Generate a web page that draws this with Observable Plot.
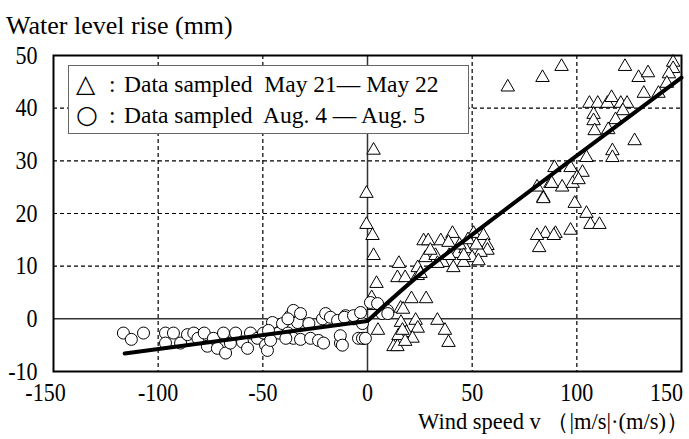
<!DOCTYPE html>
<html><head><meta charset="utf-8">
<script src="https://cdn.jsdelivr.net/npm/d3@7"></script>
<script src="https://cdn.jsdelivr.net/npm/@observablehq/plot@0.6"></script>
<style>
body{margin:0;background:#fff;}
#wrap{position:relative;width:689px;height:439px;font-family:"Liberation Serif","Times New Roman",serif;color:#000;overflow:hidden;}
#chart{position:absolute;left:0;top:0;}
.lbl{position:absolute;line-height:1;white-space:nowrap;}
#title{left:6px;top:13px;font-size:26px;}
#xlabel{right:0px;top:411px;font-size:22.5px;}
#legend{position:absolute;left:68px;top:65px;width:399px;height:67px;border:1px solid #666;background:#fff;}
#legend .lbl{font-size:23.5px;}
</style></head><body>
<div id="wrap">
  <div id="chart"></div>
  <div id="title" class="lbl">Water level rise (mm)</div>
  <div id="legend"></div>
  <div id="xlabel" class="lbl">Wind speed v （|m/s|·(m/s)）</div>
</div>
<script>
// Tick values
const xTicks = [-150, -100, -50, 0, 50, 100, 150];
const yTicks = [-10, 0, 10, 20, 30, 40, 50];
const gridXTicks = [-100, -50, 50, 100];
const gridYTicks = [10, 20, 30, 40];

// Legend labels
const legendSymbols = ["△", "○"];
const legendTexts = ["Data sampled  May 21— May 22", "Data sampled  Aug. 4 — Aug. 5"];

// Series 1: Data sampled May 21 - May 22 (triangles)
const mayV = [2.9,-0.5,-0.5,2.4,2.9,4.3,2,3,5,
  15,14.3,18,24,21,28,15.8,17,16,23,24,33.4,37,38.7,18.6,14.8,21.5,12.4,14.3,18,16.7,
  24,27.7,26.8,29,35,32.5,40.6,38.7,36,41,43,46.8,50.7,55.4,57.3,57.3,54,50,45.9,33.4,25.3,30,44,48,52,39,46,53,
  92.7,83.6,123,129.5,134,146,146,144,143,139,132,106,110,114.6,116.6,121,124,122,108,108,118.5,108.5,115,127.6,117,117,104.6,97,89.3,102.7,100,87.4,93,98,100.8,84,99,104.6,106.5,110.8,89.8,97,85,
  81,82,89,81,84,88,67];
const mayH = [32,23.8,17.9,15.8,12,6.7,4,2.5,-2.2,
  10.5,7.8,7.8,8.2,3.8,3.8,2,1.8,-0.7,-0.3,-1.8,-0.3,-2.2,-4.5,-2.6,-3.2,-3.7,-5.3,-5.3,-4.3,-2.2,
  9.7,11.6,14.8,14.8,14.8,12,16.2,14.5,10.7,9.7,12.4,13.3,16.2,15.8,13.9,13,12.6,11.6,10.7,10.5,8.6,13,14,15,14,12,12,11,
  47.9,45.8,47.9,45.8,46.7,48.7,47.5,46.5,44.7,42.8,42.8,40.9,40.9,40.9,42,40.9,40.9,39.5,38.8,37.6,37.8,35.7,35.9,33.8,31.9,30.6,30.6,28.7,28.7,27.8,26.8,25.7,25,25.7,26.4,23,21.9,20,17.9,17.9,16.2,16.8,16.2,
  15.8,13.5,15.8,25,22.8,25.7,44];

// Series 2: Data sampled Aug. 4 - Aug. 5 (circles)
const augV = [-116.6,-112.8,-107,-96.5,-96.5,-92.7,-89.3,-86,-83,-81,-78,-76.5,-73.6,-71.7,-68.8,-67.8,-65.5,-63,-59.7,-57.3,-55.9,-52.6,-49.7,-48.7,-47.8,-45.4,-42.5,-40.6,-38,-36.8,-35.4,-33.4,-32,-35.4,-32,-28,-27.2,-23.4,-21.5,-20,-21,-17.7,-14.3,-12.9,-10.5,-6.7,-4.3,-1.9,-2.4,-47.3,-46.3,-39,-38,
  -11,-6.7,-3.3,1.4,4.8,9.5,7,9.7,-13,-12,-2.4,-1];
const augH = [-2.7,-3.9,-2.7,-2.7,-4.6,-2.7,-4.6,-3,-2.7,-3.7,-2.7,-5.2,-3.7,-5.6,-2.7,-6.5,-4.6,-2.7,-4.4,-5.6,-2.7,-3.7,-2.7,-5,-6,-0.7,-2.7,-0.9,-2.7,0.6,1.6,-0.7,1,-3.7,-3.9,-0.9,-3.7,-4.1,0,1,-4.6,0.3,-0.3,-4.6,0.6,0,-3.7,-3.7,-0.9,-2.2,-4.1,-3.7,0,
  0.3,0.6,1.2,3.1,2.9,1.6,1,1,-3.2,-5,-3.7,-3.7];

// Fitted curve (two branches)
const fitLeftV = [-116, 0];
const fitLeftH = [-6.6, -0.4];
const fitRightV = [0, 25, 50, 100, 150];
const fitRightH = [-0.4, 8.4, 16, 31, 45.8];

const may = mayV.map((v, i) => ({v, h: mayH[i]}));
const aug = augV.map((v, i) => ({v, h: augH[i]}));
const fitL = fitLeftV.map((v, i) => ({v, h: fitLeftH[i]}));
const fitR = fitRightV.map((v, i) => ({v, h: fitRightH[i]}));

const fmt = d => String(d);
const axOpts = {tickSize: 0, tickPadding: 12, fontSize: 25, label: null, tickFormat: fmt};

const chart = Plot.plot({
  width: 689, height: 439,
  marginLeft: 53, marginRight: 8, marginTop: 55, marginBottom: 68,
  x: {domain: [-150, 150]},
  y: {domain: [-10, 50]},
  style: {fontFamily: "'Liberation Serif', 'Times New Roman', serif", fontSize: "25px", background: "transparent", color: "#000"},
  marks: [
    Plot.gridX(gridXTicks, {stroke: "#000", strokeOpacity: 1, strokeWidth: 1.2, strokeDasharray: "4,3"}),
    Plot.gridY(gridYTicks, {stroke: "#000", strokeOpacity: 1, strokeWidth: 1.2, strokeDasharray: "4,3"}),
    Plot.ruleX([0], {stroke: "#333", strokeWidth: 1.5}),
    Plot.ruleY([0], {stroke: "#333", strokeWidth: 1.5}),
    Plot.axisX(xTicks.slice(1, -1), axOpts),
    Plot.axisX(xTicks.slice(0, 1), {...axOpts, dx: -8}),
    Plot.axisX(xTicks.slice(-1), {...axOpts, dx: -15}),
    Plot.axisY(yTicks, {tickSize: 0, tickPadding: 16, fontSize: 25, label: null, tickFormat: fmt}),
    Plot.dot(may, {x: "v", y: "h", symbol: "triangle", r: 5, fill: "white", stroke: "black", strokeWidth: 1}),
    Plot.dot(aug, {x: "v", y: "h", r: 6, fill: "white", stroke: "black", strokeWidth: 1}),
    Plot.line(fitL, {x: "v", y: "h", stroke: "black", strokeWidth: 4}),
    Plot.line(fitR, {x: "v", y: "h", stroke: "black", strokeWidth: 4, curve: "monotone-x"}),
    Plot.frame({stroke: "black", strokeWidth: 2})
  ]
});
// narrow the tick label glyphs like the reference's condensed serif
chart.querySelectorAll('g[aria-label$="tick label"] text').forEach(t => {
  const tr = t.getAttribute("transform") || "";
  t.setAttribute("transform", tr + " scale(0.88,1)");
});
document.getElementById("chart").appendChild(chart);

// Legend (HTML overlay in the plot's upper-left)
const leg = document.getElementById("legend");
legendSymbols.forEach((s, i) => {
  const top = 5 + i * 31;
  const sym = document.createElement("div");
  sym.className = "lbl"; sym.textContent = s;
  sym.style.cssText = `left:7px;top:${top}px;font-size:25px;font-family:'DejaVu Sans',sans-serif;`;
  const colon = document.createElement("div");
  colon.className = "lbl"; colon.textContent = ":";
  colon.style.cssText = `left:40px;top:${top + 2}px;`;
  const txt = document.createElement("div");
  txt.className = "lbl"; txt.textContent = legendTexts[i];
  txt.style.cssText = `left:55px;top:${top + 2}px;white-space:pre;`;
  leg.append(sym, colon, txt);
});
</script>
</body></html>
